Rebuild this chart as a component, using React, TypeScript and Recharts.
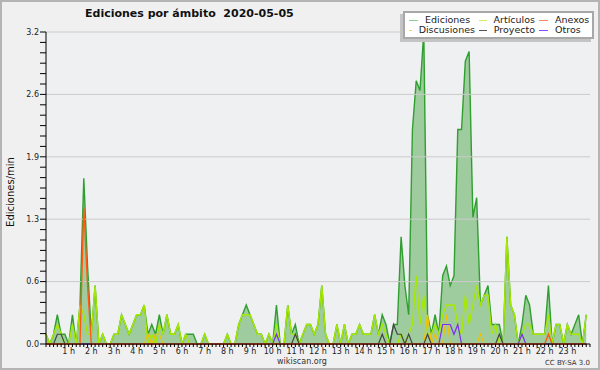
import React from "react";
import {
  ComposedChart,
  Area,
  Line,
  XAxis,
  YAxis,
  ReferenceLine,
  CartesianGrid,
} from "recharts";

// edits per minute, one value per 10 minutes, one row per hour
const ediciones = [
  0.1, 0.0, 0.1, 0.3, 0.1, 0.1,
  0.0, 0.3, 0.0, 0.4, 1.7, 0.8,
  0.1, 0.6, 0.0, 0.1, 0.0, 0.0,
  0.1, 0.1, 0.3, 0.2, 0.1, 0.2,
  0.3, 0.3, 0.4, 0.1, 0.2, 0.1,
  0.3, 0.1, 0.3, 0.1, 0.1, 0.2,
  0.0, 0.1, 0.1, 0.1, 0.0, 0.0,
  0.1, 0.0, 0.0, 0.0, 0.0, 0.0,
  0.1, 0.0, 0.0, 0.2, 0.3, 0.4,
  0.3, 0.2, 0.1, 0.1, 0.0, 0.1,
  0.0, 0.4, 0.0, 0.0, 0.4, 0.1,
  0.2, 0.0, 0.1, 0.2, 0.2, 0.1,
  0.2, 0.6, 0.1, 0.0, 0.0, 0.2,
  0.0, 0.2, 0.0, 0.1, 0.1, 0.2,
  0.1, 0.1, 0.1, 0.3, 0.1, 0.3,
  0.2, 0.0, 0.2, 0.2, 1.1, 0.6,
  0.3, 2.2, 2.7, 2.6, 3.2, 0.3,
  0.1, 0.3, 0.1, 0.7, 0.8, 0.6,
  0.7, 2.2, 2.2, 2.9, 3.0, 1.3,
  1.5, 0.4, 0.5, 0.6, 0.2, 0.2,
  0.2, 0.0, 1.1, 0.4, 0.3, 0.0,
  0.2, 0.5, 0.4, 0.1, 0.1, 0.1,
  0.1, 0.6, 0.0, 0.2, 0.2, 0.0,
  0.2, 0.1, 0.2, 0.3, 0.0, 0.3,
];

const articulos = [
  0.1, 0.0, 0.1, 0.2, 0.1, 0.0,
  0.0, 0.2, 0.0, 0.4, 0.3, 0.1,
  0.1, 0.6, 0.0, 0.1, 0.0, 0.0,
  0.1, 0.1, 0.3, 0.2, 0.1, 0.2,
  0.3, 0.3, 0.4, 0.0, 0.1, 0.0,
  0.2, 0.1, 0.3, 0.1, 0.1, 0.2,
  0.0, 0.1, 0.0, 0.0, 0.0, 0.0,
  0.1, 0.0, 0.0, 0.0, 0.0, 0.0,
  0.1, 0.0, 0.0, 0.2, 0.3, 0.3,
  0.3, 0.2, 0.1, 0.1, 0.0, 0.1,
  0.0, 0.2, 0.0, 0.0, 0.4, 0.1,
  0.1, 0.0, 0.1, 0.2, 0.2, 0.1,
  0.2, 0.6, 0.1, 0.0, 0.0, 0.2,
  0.0, 0.2, 0.0, 0.1, 0.1, 0.2,
  0.1, 0.1, 0.1, 0.3, 0.1, 0.2,
  0.1, 0.0, 0.0, 0.0, 0.1, 0.0,
  0.1, 0.2, 0.7, 0.2, 0.5, 0.1,
  0.1, 0.2, 0.1, 0.3, 0.4, 0.4,
  0.4, 0.2, 0.1, 0.5, 0.2, 0.4,
  0.6, 0.4, 0.5, 0.5, 0.1, 0.2,
  0.0, 0.0, 1.1, 0.4, 0.3, 0.0,
  0.1, 0.2, 0.2, 0.1, 0.1, 0.1,
  0.1, 0.3, 0.0, 0.2, 0.2, 0.0,
  0.2, 0.1, 0.1, 0.1, 0.0, 0.3,
];

const anexos = [
  0, 0, 0, 0, 0, 0,
  0, 0, 0, 0, 1.4, 0.6,
  0, 0, 0, 0, 0, 0,
  0, 0, 0, 0, 0, 0,
  0, 0, 0, 0, 0, 0,
  0, 0, 0, 0, 0, 0,
  0, 0, 0, 0, 0, 0,
  0, 0, 0, 0, 0, 0,
  0, 0, 0, 0, 0, 0,
  0, 0, 0, 0, 0, 0,
  0, 0, 0, 0, 0, 0,
  0, 0, 0, 0, 0, 0,
  0, 0, 0, 0, 0, 0,
  0, 0, 0, 0, 0, 0,
  0, 0, 0, 0, 0, 0,
  0, 0, 0, 0, 0, 0,
  0, 0, 0, 0, 0, 0,
  0, 0, 0, 0, 0, 0,
  0, 0, 0, 0, 0, 0,
  0, 0, 0, 0, 0, 0,
  0, 0, 0, 0, 0, 0,
  0, 0, 0, 0, 0, 0,
  0, 0.1, 0, 0, 0, 0,
  0, 0, 0, 0, 0, 0,
];

const discusiones = [
  0, 0, 0, 0, 0, 0,
  0, 0, 0, 0, 0, 0,
  0, 0, 0, 0, 0, 0,
  0, 0, 0, 0, 0, 0,
  0, 0, 0, 0.1, 0, 0.1,
  0.1, 0, 0, 0, 0, 0,
  0, 0, 0, 0, 0, 0,
  0, 0, 0, 0, 0, 0,
  0, 0, 0, 0, 0, 0,
  0, 0, 0, 0, 0, 0,
  0, 0, 0, 0, 0, 0,
  0, 0, 0, 0, 0, 0,
  0, 0, 0, 0, 0, 0,
  0, 0, 0, 0, 0, 0,
  0, 0, 0, 0, 0, 0,
  0, 0, 0, 0, 0, 0,
  0, 0, 0, 0, 0, 0.3,
  0, 0.1, 0, 0, 0.3, 0,
  0, 0, 0, 0, 0, 0,
  0, 0.1, 0, 0, 0, 0,
  0, 0, 0, 0, 0, 0,
  0, 0, 0, 0, 0, 0,
  0, 0, 0, 0, 0, 0,
  0, 0, 0, 0, 0, 0,
];

const proyecto = [
  0, 0, 0, 0.1, 0.1, 0,
  0, 0, 0, 0, 0, 0,
  0, 0, 0, 0, 0, 0,
  0, 0, 0, 0, 0, 0,
  0, 0, 0, 0, 0, 0,
  0, 0, 0, 0, 0, 0,
  0, 0, 0, 0, 0, 0,
  0, 0, 0, 0, 0, 0,
  0, 0, 0, 0, 0, 0,
  0, 0, 0, 0, 0, 0,
  0, 0, 0, 0, 0, 0,
  0.1, 0, 0, 0, 0, 0,
  0, 0, 0, 0, 0, 0,
  0, 0, 0, 0, 0, 0,
  0, 0, 0, 0, 0, 0.1,
  0, 0, 0.2, 0.1, 0.1, 0,
  0.1, 0, 0, 0, 0, 0.1,
  0, 0, 0, 0, 0, 0,
  0, 0, 0, 0, 0, 0,
  0, 0, 0, 0, 0, 0,
  0.1, 0, 0, 0, 0, 0,
  0, 0, 0, 0, 0, 0,
  0, 0, 0, 0, 0, 0,
  0, 0, 0, 0, 0, 0,
];

const otros = [
  0, 0, 0, 0, 0, 0,
  0, 0, 0, 0, 0, 0,
  0, 0, 0, 0, 0, 0,
  0, 0, 0, 0, 0, 0,
  0, 0, 0, 0, 0, 0,
  0, 0, 0, 0, 0, 0,
  0, 0, 0, 0, 0, 0,
  0, 0, 0, 0, 0, 0,
  0, 0, 0, 0, 0, 0,
  0, 0, 0, 0, 0, 0,
  0, 0.1, 0, 0, 0, 0,
  0, 0, 0, 0, 0, 0,
  0, 0, 0, 0, 0, 0,
  0, 0, 0, 0, 0, 0,
  0, 0, 0, 0, 0, 0,
  0, 0, 0, 0, 0, 0,
  0, 0, 0, 0, 0, 0,
  0, 0, 0, 0.2, 0.2, 0.2,
  0.1, 0.2, 0, 0, 0, 0,
  0, 0, 0, 0, 0, 0,
  0, 0, 0, 0, 0, 0,
  0.1, 0, 0, 0, 0, 0,
  0, 0, 0, 0, 0, 0,
  0, 0, 0, 0, 0, 0,
];

const hourLabels = [
  "1 h", "2 h", "3 h", "4 h", "5 h", "6 h", "7 h", "8 h", "9 h", "10 h", "11 h", "12 h",
  "13 h", "14 h", "15 h", "16 h", "17 h", "18 h", "19 h", "20 h", "21 h", "22 h", "23 h",
];
const yMajor = [0, 0.64, 1.28, 1.92, 2.56, 3.2];
const yLabels = ["0.0", "0.6", "1.3", "1.9", "2.6", "3.2"];

const legendItems = [
  { name: "Ediciones", color: "#8fd08f" },
  { name: "Artículos", color: "#cdef5a" },
  { name: "Anexos", color: "#ff8a5c" },
  { name: "Discusiones", color: "#ffd24a" },
  { name: "Proyecto", color: "#555555" },
  { name: "Otros", color: "#8a4cff" },
];

const data = ediciones.map((v, i) => ({
  t: i * 10,
  ediciones: v,
  articulos: articulos[i],
  anexos: anexos[i],
  discusiones: discusiones[i],
  proyecto: proyecto[i],
  otros: otros[i],
}));

const xTicks = Array.from({ length: 145 }, (_, i) => i * 10);
const yTicks = Array.from({ length: 31 }, (_, i) => (i * 3.2) / 30);

const font = "'DejaVu Sans', sans-serif";

export default function App() {
  return (
    <div
      style={{
        position: "absolute",
        left: 0,
        top: 0,
        width: 600,
        height: 370,
        boxSizing: "border-box",
        border: "2px solid #b4b4b4",
        background: "#f0f0f0",
        fontFamily: font,
        overflow: "hidden",
      }}
    >
      <div style={{ position: "absolute", left: -2, top: -2 }}>
        <ComposedChart
          width={600}
          height={370}
          data={data}
          margin={{ top: 32, right: 10, bottom: 0, left: 6 }}
        >
          <CartesianGrid horizontal={false} vertical={false} fill="#eff0f2" />
          {yMajor.slice(1).map((v) => (
            <ReferenceLine key={v} y={v} stroke="#cacaca" strokeWidth={1} />
          ))}
          <Area
            type="linear"
            dataKey="ediciones"
            stroke="#2f9f2f"
            strokeWidth={1.4}
            fill="#9fcc9f"
            fillOpacity={1}
            isAnimationActive={false}
            dot={false}
          />
          <Line type="linear" dataKey="articulos" stroke="#a6e800" strokeWidth={1.4} dot={false} isAnimationActive={false} />
          <Line type="linear" dataKey="discusiones" stroke="#f2c200" strokeWidth={1.2} dot={false} isAnimationActive={false} />
          <Line type="linear" dataKey="proyecto" stroke="#444444" strokeWidth={1.2} dot={false} isAnimationActive={false} />
          <Line type="linear" dataKey="otros" stroke="#7b2ff0" strokeWidth={1.2} dot={false} isAnimationActive={false} />
          <Line type="linear" dataKey="anexos" stroke="#ff5a14" strokeWidth={1.4} dot={false} isAnimationActive={false} />
          <XAxis
            type="number"
            dataKey="t"
            domain={[0, 1440]}
            ticks={xTicks}
            interval={0}
            height={26}
            tickSize={3}
            tickMargin={1}
            axisLine={{ stroke: "#000" }}
            tickLine={{ stroke: "#000" }}
            tick={{ fontSize: 8, fill: "#222", fontFamily: font }}
            tickFormatter={(v: number) =>
              v % 60 === 0 && v > 0 && v < 1440 ? hourLabels[v / 60 - 1] : ""
            }
          />
          <YAxis
            type="number"
            domain={[0, 3.2]}
            ticks={yTicks}
            interval={0}
            width={40}
            tickSize={6}
            tickMargin={1}
            axisLine={{ stroke: "#000" }}
            tickLine={{ stroke: "#000" }}
            tick={{ fontSize: 8, fill: "#222", fontFamily: font }}
            tickFormatter={(_v: number, i: number) => (i % 6 === 0 ? yLabels[i / 6] : "")}
          />
        </ComposedChart>
      </div>

      <div
        style={{
          position: "absolute",
          left: 83,
          top: 5,
          fontSize: 11,
          fontWeight: "bold",
          color: "#111",
          whiteSpace: "pre",
        }}
      >
        {"Ediciones por ámbito  2020-05-05"}
      </div>

      <div
        style={{
          position: "absolute",
          left: -2,
          top: 190,
          width: 20,
          height: 0,
        }}
      >
        <div
          style={{
            position: "absolute",
            left: 10,
            top: 0,
            transform: "translate(-50%, -50%) rotate(-90deg)",
            fontSize: 10,
            color: "#111",
            whiteSpace: "nowrap",
          }}
        >
          Ediciones/min
        </div>
      </div>

      <div
        style={{
          position: "absolute",
          left: 401,
          top: 9,
          width: 187,
          height: 22,
          background: "#fff",
          border: "2px solid #a8a8a8",
          boxShadow: "-3px 3px 0 #c4c4c4",
          display: "grid",
          gridTemplateColumns: "70px 60px 56px",
          gridAutoRows: "10px",
          paddingTop: 2,
          fontSize: 9.5,
          color: "#222",
          lineHeight: "10px",
        }}
      >
        {legendItems.map((it) => (
          <div key={it.name} style={{ display: "flex", alignItems: "center", paddingLeft: 4 }}>
            <span
              style={{
                display: "inline-block",
                width: 9,
                height: 1,
                background: it.color,
                marginRight: 7,
              }}
            />
            {it.name}
          </div>
        ))}
      </div>

      <div
        style={{
          position: "absolute",
          left: 0,
          width: 600,
          top: 355,
          textAlign: "center",
          fontSize: 8,
          color: "#333",
        }}
      >
        wikiscan.org
      </div>
      <div
        style={{
          position: "absolute",
          right: 8,
          top: 357,
          fontSize: 7,
          color: "#333",
        }}
      >
        CC BY-SA 3.0
      </div>
    </div>
  );
}
